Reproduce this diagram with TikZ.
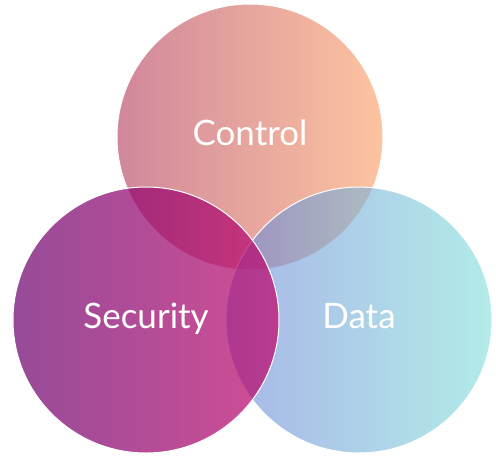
\documentclass[tikz,border=0pt]{standalone}
\usepackage{fontspec}
\setmainfont{Lato}
\usepackage{tikz}

\definecolor{ctrlleft}{RGB}{208,135,155}
\definecolor{ctrlright}{RGB}{253,196,160}
\definecolor{dataleft}{RGB}{110,133,217}
\definecolor{dataright}{RGB}{127,223,217}
\definecolor{secleft}{RGB}{109,5,112}
\definecolor{secright}{RGB}{192,9,109}

\begin{document}
\begin{tikzpicture}[x=1pt,y=-1pt]
\tikzstyle{venn}=[circle,minimum size=266pt,inner sep=0pt,draw=white,line width=1pt]
\tikzstyle{vennlabel}=[text=white,font=\fontsize{35}{42}\selectfont,anchor=base]
\useasboundingbox (0,0) rectangle (496,456);
\node [venn,left color=ctrlleft,right color=ctrlright] (control) at (250,137) {};
\node [venn,left color=dataleft,right color=dataright,fill opacity=0.6] (data) at (359,320) {};
\node [venn,left color=secleft,right color=secright,fill opacity=0.72] (security) at (146,320) {};
\node [vennlabel] (controltext) at (250,145) {Control};
\node [vennlabel] (securitytext) at (146,328) {Security};
\node [vennlabel] (datatext) at (359,328) {Data};
\end{tikzpicture}
\end{document}
